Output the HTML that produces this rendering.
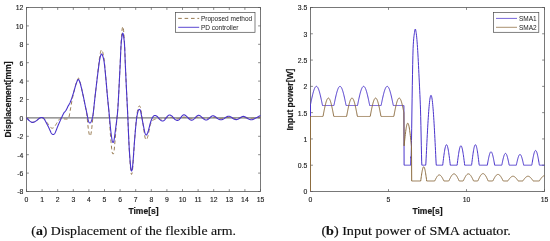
<!DOCTYPE html>
<html><head><meta charset="utf-8"><title>Figure</title>
<style>
html,body{margin:0;padding:0;background:#fff;}
body{width:550px;height:241px;overflow:hidden;position:relative;}
svg{position:absolute;left:0;top:0;display:block;}
.tk{font-family:"Liberation Sans",sans-serif;font-size:6.85px;fill:#1c1c1c;stroke:#1c1c1c;stroke-width:0.14px;}
.lb{font-family:"Liberation Sans",sans-serif;font-size:8.5px;font-weight:bold;fill:#1a1a1a;stroke:#1a1a1a;stroke-width:0.2px;}
.lg{font-family:"Liberation Sans",sans-serif;font-size:6.5px;fill:#1a1a1a;}
.cap{font-family:"Liberation Serif",serif;font-size:12.3px;fill:#111;stroke:#111;stroke-width:0.15px;}
.cap .b{font-weight:bold;}
</style></head><body>
<svg width="550" height="241" viewBox="0 0 550 241">
<rect x="0" y="0" width="550" height="241" fill="#ffffff"/>

<g id="left">
<rect x="26.5" y="7.5" width="234.0" height="184.0" fill="none" stroke="#585858" stroke-width="0.8"/>
<path d="M26.50,191.5 v-2.4 M26.50,7.5 v2.4 M42.10,191.5 v-2.4 M42.10,7.5 v2.4 M57.70,191.5 v-2.4 M57.70,7.5 v2.4 M73.30,191.5 v-2.4 M73.30,7.5 v2.4 M88.90,191.5 v-2.4 M88.90,7.5 v2.4 M104.50,191.5 v-2.4 M104.50,7.5 v2.4 M120.10,191.5 v-2.4 M120.10,7.5 v2.4 M135.70,191.5 v-2.4 M135.70,7.5 v2.4 M151.30,191.5 v-2.4 M151.30,7.5 v2.4 M166.90,191.5 v-2.4 M166.90,7.5 v2.4 M182.50,191.5 v-2.4 M182.50,7.5 v2.4 M198.10,191.5 v-2.4 M198.10,7.5 v2.4 M213.70,191.5 v-2.4 M213.70,7.5 v2.4 M229.30,191.5 v-2.4 M229.30,7.5 v2.4 M244.90,191.5 v-2.4 M244.90,7.5 v2.4 M260.50,191.5 v-2.4 M260.50,7.5 v2.4 M26.5,7.50 h2.4 M260.5,7.50 h-2.4 M26.5,25.90 h2.4 M260.5,25.90 h-2.4 M26.5,44.30 h2.4 M260.5,44.30 h-2.4 M26.5,62.70 h2.4 M260.5,62.70 h-2.4 M26.5,81.10 h2.4 M260.5,81.10 h-2.4 M26.5,99.50 h2.4 M260.5,99.50 h-2.4 M26.5,117.90 h2.4 M260.5,117.90 h-2.4 M26.5,136.30 h2.4 M260.5,136.30 h-2.4 M26.5,154.70 h2.4 M260.5,154.70 h-2.4 M26.5,173.10 h2.4 M260.5,173.10 h-2.4 M26.5,191.50 h2.4 M260.5,191.50 h-2.4 " stroke="#585858" stroke-width="0.7" fill="none"/>
<text class="tk" x="26.50" y="202.1" text-anchor="middle">0</text>
<text class="tk" x="42.10" y="202.1" text-anchor="middle">1</text>
<text class="tk" x="57.70" y="202.1" text-anchor="middle">2</text>
<text class="tk" x="73.30" y="202.1" text-anchor="middle">3</text>
<text class="tk" x="88.90" y="202.1" text-anchor="middle">4</text>
<text class="tk" x="104.50" y="202.1" text-anchor="middle">5</text>
<text class="tk" x="120.10" y="202.1" text-anchor="middle">6</text>
<text class="tk" x="135.70" y="202.1" text-anchor="middle">7</text>
<text class="tk" x="151.30" y="202.1" text-anchor="middle">8</text>
<text class="tk" x="166.90" y="202.1" text-anchor="middle">9</text>
<text class="tk" x="182.50" y="202.1" text-anchor="middle">10</text>
<text class="tk" x="198.10" y="202.1" text-anchor="middle">11</text>
<text class="tk" x="213.70" y="202.1" text-anchor="middle">12</text>
<text class="tk" x="229.30" y="202.1" text-anchor="middle">13</text>
<text class="tk" x="244.90" y="202.1" text-anchor="middle">14</text>
<text class="tk" x="260.50" y="202.1" text-anchor="middle">15</text>
<text class="tk" x="23.30" y="10.40" text-anchor="end">12</text>
<text class="tk" x="23.30" y="28.80" text-anchor="end">10</text>
<text class="tk" x="23.30" y="47.20" text-anchor="end">8</text>
<text class="tk" x="23.30" y="65.60" text-anchor="end">6</text>
<text class="tk" x="23.30" y="84.00" text-anchor="end">4</text>
<text class="tk" x="23.30" y="102.40" text-anchor="end">2</text>
<text class="tk" x="23.30" y="120.80" text-anchor="end">0</text>
<text class="tk" x="23.30" y="139.20" text-anchor="end">-2</text>
<text class="tk" x="23.30" y="157.60" text-anchor="end">-4</text>
<text class="tk" x="23.30" y="176.00" text-anchor="end">-6</text>
<text class="tk" x="23.30" y="194.40" text-anchor="end">-8</text>
<line x1="26.5" y1="117.90" x2="260.5" y2="117.90" stroke="#7a7a7a" stroke-width="1.1"/>
<path d="M26.50,117.80 L26.76,118.11 L27.02,118.41 L27.28,118.70 L27.54,118.98 L27.80,119.25 L28.06,119.50 L28.32,119.75 L28.58,119.99 L28.84,120.23 L29.10,120.46 L29.36,120.68 L29.62,120.90 L29.88,121.12 L30.14,121.33 L30.40,121.53 L30.66,121.71 L30.92,121.88 L31.19,122.03 L31.45,122.16 L31.71,122.27 L31.97,122.34 L32.23,122.39 L32.49,122.40 L32.75,122.38 L33.01,122.35 L33.27,122.29 L33.53,122.22 L33.79,122.13 L34.05,122.03 L34.31,121.92 L34.57,121.79 L34.83,121.65 L35.09,121.50 L35.35,121.35 L35.61,121.19 L35.87,121.02 L36.13,120.85 L36.39,120.67 L36.65,120.49 L36.91,120.30 L37.17,120.09 L37.43,119.88 L37.69,119.66 L37.95,119.43 L38.21,119.20 L38.47,118.98 L38.73,118.77 L38.99,118.56 L39.25,118.37 L39.51,118.19 L39.77,118.03 L40.04,117.90 L40.30,117.79 L40.56,117.70 L40.82,117.64 L41.08,117.59 L41.34,117.57 L41.60,117.58 L41.86,117.61 L42.12,117.66 L42.38,117.73 L42.64,117.82 L42.90,117.93 L43.16,118.08 L43.42,118.25 L43.68,118.45 L43.94,118.68 L44.20,118.95 L44.46,119.25 L44.72,119.58 L44.98,119.91 L45.24,120.24 L45.50,120.58 L45.76,120.91 L46.02,121.25 L46.28,121.59 L46.54,121.93 L46.80,122.28 L47.06,122.62 L47.32,122.97 L47.58,123.31 L47.84,123.66 L48.10,124.01 L48.36,124.37 L48.62,124.72 L48.88,125.08 L49.15,125.44 L49.41,125.79 L49.67,126.15 L49.93,126.50 L50.19,126.85 L50.45,127.18 L50.71,127.47 L50.97,127.70 L51.23,127.88 L51.49,128.01 L51.75,128.11 L52.01,128.17 L52.27,128.20 L52.53,128.20 L52.79,128.15 L53.05,128.07 L53.31,127.94 L53.57,127.77 L53.83,127.56 L54.09,127.30 L54.35,126.99 L54.61,126.65 L54.87,126.27 L55.13,125.87 L55.39,125.45 L55.65,125.01 L55.91,124.57 L56.17,124.13 L56.43,123.69 L56.69,123.25 L56.95,122.83 L57.21,122.42 L57.47,122.04 L57.73,121.66 L57.99,121.27 L58.26,120.87 L58.52,120.47 L58.78,120.08 L59.04,119.71 L59.30,119.37 L59.56,119.06 L59.82,118.79 L60.08,118.57 L60.34,118.41 L60.60,118.32 L60.86,118.29 L61.12,118.30 L61.38,118.34 L61.64,118.39 L61.90,118.47 L62.16,118.55 L62.42,118.63 L62.68,118.72 L62.94,118.79 L63.20,118.85 L63.46,118.90 L63.72,118.92 L63.98,118.94 L64.24,118.97 L64.50,118.99 L64.76,119.01 L65.02,119.03 L65.28,119.05 L65.54,119.07 L65.80,119.09 L66.06,119.10 L66.32,119.12 L66.58,119.12 L66.84,119.11 L67.11,119.08 L67.37,119.05 L67.63,118.99 L67.89,118.92 L68.15,118.82 L68.41,118.60 L68.67,118.04 L68.93,117.19 L69.19,116.10 L69.45,114.82 L69.71,113.40 L69.97,111.92 L70.23,110.41 L70.49,108.90 L70.75,107.41 L71.01,105.95 L71.27,104.48 L71.53,103.00 L71.79,101.53 L72.05,100.12 L72.31,98.82 L72.57,97.63 L72.83,96.51 L73.09,95.43 L73.35,94.37 L73.61,93.29 L73.87,92.19 L74.13,91.05 L74.39,89.91 L74.65,88.77 L74.91,87.66 L75.17,86.61 L75.43,85.66 L75.69,84.80 L75.95,83.97 L76.22,83.15 L76.48,82.34 L76.74,81.58 L77.00,80.84 L77.26,80.12 L77.52,79.45 L77.78,78.91 L78.04,78.51 L78.30,78.26 L78.56,78.18 L78.82,78.37 L79.08,78.81 L79.34,79.48 L79.60,80.35 L79.86,81.27 L80.12,82.23 L80.38,83.25 L80.64,84.34 L80.90,85.49 L81.16,86.65 L81.42,87.80 L81.68,88.97 L81.94,90.14 L82.20,91.31 L82.46,92.48 L82.72,93.65 L82.98,94.82 L83.24,95.99 L83.50,97.17 L83.76,98.34 L84.02,99.60 L84.28,101.05 L84.54,102.56 L84.80,104.03 L85.07,105.39 L85.33,106.69 L85.59,107.95 L85.85,109.20 L86.11,110.47 L86.37,111.77 L86.63,113.15 L86.89,114.99 L87.15,117.39 L87.41,120.11 L87.67,122.93 L87.93,125.60 L88.19,127.91 L88.45,129.84 L88.71,131.56 L88.97,133.04 L89.23,134.25 L89.49,135.17 L89.75,135.76 L90.01,136.00 L90.27,135.90 L90.53,135.46 L90.79,134.66 L91.05,133.51 L91.31,131.97 L91.57,130.03 L91.83,127.69 L92.09,125.12 L92.35,122.48 L92.61,119.82 L92.87,117.17 L93.13,114.57 L93.39,112.05 L93.65,109.58 L93.91,107.09 L94.18,104.60 L94.44,102.14 L94.70,99.72 L94.96,97.39 L95.22,95.11 L95.48,92.83 L95.74,90.55 L96.00,88.27 L96.26,86.00 L96.52,83.72 L96.78,81.44 L97.04,79.16 L97.30,76.89 L97.56,74.61 L97.82,72.33 L98.08,70.05 L98.34,67.78 L98.60,65.50 L98.86,63.22 L99.12,60.97 L99.38,58.96 L99.64,57.16 L99.90,55.55 L100.16,54.07 L100.42,52.69 L100.68,51.53 L100.94,50.71 L101.20,50.18 L101.46,49.93 L101.72,49.93 L101.98,50.17 L102.24,50.66 L102.50,51.36 L102.76,52.26 L103.03,53.32 L103.29,54.44 L103.55,55.70 L103.81,57.20 L104.07,59.02 L104.33,61.27 L104.59,63.92 L104.85,66.66 L105.11,69.46 L105.37,72.33 L105.63,75.25 L105.89,78.21 L106.15,81.22 L106.41,84.25 L106.67,87.30 L106.93,90.36 L107.19,93.40 L107.45,96.42 L107.71,99.35 L107.97,102.11 L108.23,104.78 L108.49,107.45 L108.75,110.21 L109.01,113.14 L109.27,116.54 L109.53,120.45 L109.79,124.63 L110.05,128.82 L110.31,132.78 L110.57,136.34 L110.83,139.66 L111.09,142.75 L111.35,145.61 L111.61,148.20 L111.87,150.45 L112.14,152.07 L112.40,153.14 L112.66,153.75 L112.92,153.99 L113.18,153.99 L113.44,153.81 L113.70,153.22 L113.96,152.00 L114.22,149.89 L114.48,146.95 L114.74,143.96 L115.00,140.95 L115.26,137.95 L115.52,134.94 L115.78,131.93 L116.04,128.92 L116.30,125.91 L116.56,122.90 L116.82,119.88 L117.08,116.87 L117.34,113.85 L117.60,110.79 L117.86,107.35 L118.12,103.49 L118.38,99.25 L118.64,94.69 L118.90,89.87 L119.16,84.81 L119.42,79.53 L119.68,74.10 L119.94,68.54 L120.20,62.91 L120.46,57.00 L120.72,50.93 L120.98,45.22 L121.25,40.52 L121.51,36.62 L121.77,33.16 L122.03,30.32 L122.29,28.26 L122.55,27.01 L122.81,26.60 L123.07,27.10 L123.33,28.48 L123.59,30.61 L123.85,33.38 L124.11,36.62 L124.37,40.45 L124.63,45.39 L124.89,51.91 L125.15,59.17 L125.41,65.59 L125.67,71.67 L125.93,77.65 L126.19,83.47 L126.45,89.08 L126.71,94.38 L126.97,99.48 L127.23,104.55 L127.49,109.76 L127.75,115.32 L128.01,121.36 L128.27,127.64 L128.53,133.90 L128.79,139.86 L129.05,145.31 L129.31,150.27 L129.57,154.82 L129.83,159.03 L130.10,162.97 L130.36,166.63 L130.62,169.64 L130.88,171.95 L131.14,173.52 L131.40,174.32 L131.66,174.34 L131.92,173.71 L132.18,172.49 L132.44,170.65 L132.70,168.19 L132.96,165.06 L133.22,161.36 L133.48,157.33 L133.74,153.13 L134.00,148.92 L134.26,144.85 L134.52,141.08 L134.78,137.64 L135.04,134.30 L135.30,131.05 L135.56,127.94 L135.82,124.98 L136.08,122.20 L136.34,119.62 L136.60,117.28 L136.86,115.16 L137.12,113.26 L137.38,111.58 L137.64,110.13 L137.90,108.90 L138.16,107.89 L138.42,107.13 L138.68,106.58 L138.94,106.24 L139.21,106.09 L139.47,106.12 L139.73,106.17 L139.99,106.33 L140.25,106.72 L140.51,107.50 L140.77,108.79 L141.03,110.49 L141.29,112.22 L141.55,113.97 L141.81,115.74 L142.07,117.53 L142.33,119.32 L142.59,121.11 L142.85,122.93 L143.11,124.76 L143.37,126.60 L143.63,128.44 L143.89,130.27 L144.15,132.09 L144.41,133.89 L144.67,135.59 L144.93,136.98 L145.19,138.05 L145.45,138.83 L145.71,139.35 L145.97,139.62 L146.23,139.67 L146.49,139.53 L146.75,139.22 L147.01,138.76 L147.27,138.16 L147.53,137.42 L147.79,136.56 L148.06,135.59 L148.32,134.50 L148.58,133.22 L148.84,131.82 L149.10,130.37 L149.36,128.94 L149.62,127.61 L149.88,126.46 L150.14,125.52 L150.40,124.65 L150.66,123.83 L150.92,123.06 L151.18,122.37 L151.44,121.76 L151.70,121.24 L151.96,120.83 L152.22,120.53 L152.48,120.36 L152.74,120.22 L153.00,120.08 L153.26,119.96 L153.52,119.84 L153.78,119.72 L154.04,119.62 L154.30,119.52 L154.56,119.43 L154.82,119.35 L155.08,119.28 L155.34,119.21 L155.60,119.13 L155.86,119.06 L156.12,118.99 L156.38,118.91 L156.64,118.85 L156.90,118.79 L157.17,118.73 L157.43,118.68 L157.69,118.64 L157.95,118.61 L158.21,118.59 L158.47,118.61 L158.73,118.66 L158.99,118.73 L159.25,118.82 L159.51,118.91 L159.77,119.00 L160.03,119.08 L160.29,119.15 L160.55,119.19 L160.81,119.21 L161.07,119.19 L161.33,119.16 L161.59,119.13 L161.85,119.09 L162.11,119.04 L162.37,118.99 L162.63,118.94 L162.89,118.89 L163.15,118.82 L163.41,118.76 L163.67,118.69 L163.93,118.62 L164.19,118.54 L164.45,118.46 L164.71,118.37 L164.97,118.28 L165.23,118.19 L165.49,118.10 L165.75,118.01 L166.02,117.91 L166.28,117.83 L166.54,117.74 L166.80,117.66 L167.06,117.58 L167.32,117.51 L167.58,117.44 L167.84,117.37 L168.10,117.31 L168.36,117.25 L168.62,117.21 L168.88,117.17 L169.14,117.15 L169.40,117.15 L169.66,117.16 L169.92,117.19 L170.18,117.23 L170.44,117.28 L170.70,117.34 L170.96,117.40 L171.22,117.46 L171.48,117.52 L171.74,117.58 L172.00,117.65 L172.26,117.71 L172.52,117.78 L172.78,117.85 L173.04,117.91 L173.30,117.98 L173.56,118.05 L173.82,118.12 L174.08,118.19 L174.34,118.26 L174.60,118.34 L174.86,118.41 L175.13,118.48 L175.39,118.55 L175.65,118.62 L175.91,118.68 L176.17,118.73 L176.43,118.77 L176.69,118.80 L176.95,118.80 L177.21,118.80 L177.47,118.78 L177.73,118.75 L177.99,118.71 L178.25,118.67 L178.51,118.61 L178.77,118.55 L179.03,118.49 L179.29,118.42 L179.55,118.34 L179.81,118.26 L180.07,118.17 L180.33,118.07 L180.59,117.97 L180.85,117.88 L181.11,117.78 L181.37,117.69 L181.63,117.61 L181.89,117.53 L182.15,117.46 L182.41,117.39 L182.67,117.31 L182.93,117.24 L183.19,117.18 L183.45,117.12 L183.71,117.09 L183.97,117.07 L184.24,117.07 L184.50,117.10 L184.76,117.15 L185.02,117.20 L185.28,117.25 L185.54,117.31 L185.80,117.37 L186.06,117.43 L186.32,117.50 L186.58,117.56 L186.84,117.63 L187.10,117.70 L187.36,117.76 L187.62,117.83 L187.88,117.90 L188.14,117.97 L188.40,118.04 L188.66,118.11 L188.92,118.19 L189.18,118.26 L189.44,118.33 L189.70,118.40 L189.96,118.47 L190.22,118.54 L190.48,118.60 L190.74,118.65 L191.00,118.68 L191.26,118.69 L191.52,118.70 L191.78,118.68 L192.04,118.66 L192.30,118.63 L192.56,118.59 L192.82,118.54 L193.09,118.49 L193.35,118.43 L193.61,118.38 L193.87,118.31 L194.13,118.24 L194.39,118.16 L194.65,118.07 L194.91,117.98 L195.17,117.90 L195.43,117.81 L195.69,117.72 L195.95,117.64 L196.21,117.57 L196.47,117.51 L196.73,117.45 L196.99,117.39 L197.25,117.33 L197.51,117.28 L197.77,117.23 L198.03,117.19 L198.29,117.17 L198.55,117.17 L198.81,117.18 L199.07,117.21 L199.33,117.25 L199.59,117.30 L199.85,117.35 L200.11,117.40 L200.37,117.45 L200.63,117.50 L200.89,117.56 L201.15,117.61 L201.41,117.67 L201.67,117.73 L201.93,117.79 L202.20,117.84 L202.46,117.90 L202.72,117.97 L202.98,118.03 L203.24,118.10 L203.50,118.16 L203.76,118.23 L204.02,118.29 L204.28,118.35 L204.54,118.41 L204.80,118.46 L205.06,118.51 L205.32,118.55 L205.58,118.57 L205.84,118.57 L206.10,118.57 L206.36,118.55 L206.62,118.53 L206.88,118.49 L207.14,118.45 L207.40,118.41 L207.66,118.36 L207.92,118.31 L208.18,118.26 L208.44,118.21 L208.70,118.15 L208.96,118.09 L209.22,118.02 L209.48,117.96 L209.74,117.89 L210.00,117.82 L210.26,117.76 L210.52,117.70 L210.78,117.64 L211.05,117.59 L211.31,117.54 L211.57,117.49 L211.83,117.44 L212.09,117.40 L212.35,117.36 L212.61,117.33 L212.87,117.30 L213.13,117.29 L213.39,117.29 L213.65,117.31 L213.91,117.33 L214.17,117.36 L214.43,117.40 L214.69,117.44 L214.95,117.49 L215.21,117.54 L215.47,117.59 L215.73,117.64 L215.99,117.70 L216.25,117.75 L216.51,117.80 L216.77,117.86 L217.03,117.92 L217.29,117.99 L217.55,118.05 L217.81,118.12 L218.07,118.19 L218.33,118.26 L218.59,118.33 L218.85,118.39 L219.11,118.44 L219.37,118.48 L219.63,118.52 L219.89,118.54 L220.16,118.55 L220.42,118.55 L220.68,118.54 L220.94,118.52 L221.20,118.49 L221.46,118.46 L221.72,118.43 L221.98,118.39 L222.24,118.34 L222.50,118.30 L222.76,118.25 L223.02,118.21 L223.28,118.15 L223.54,118.10 L223.80,118.04 L224.06,117.99 L224.32,117.93 L224.58,117.87 L224.84,117.82 L225.10,117.77 L225.36,117.72 L225.62,117.68 L225.88,117.64 L226.14,117.60 L226.40,117.56 L226.66,117.52 L226.92,117.48 L227.18,117.45 L227.44,117.43 L227.70,117.41 L227.96,117.40 L228.22,117.39 L228.48,117.40 L228.74,117.41 L229.01,117.43 L229.27,117.46 L229.53,117.49 L229.79,117.52 L230.05,117.56 L230.31,117.60 L230.57,117.64 L230.83,117.69 L231.09,117.73 L231.35,117.77 L231.61,117.82 L231.87,117.87 L232.13,117.92 L232.39,117.98 L232.65,118.03 L232.91,118.09 L233.17,118.15 L233.43,118.21 L233.69,118.26 L233.95,118.31 L234.21,118.36 L234.47,118.40 L234.73,118.43 L234.99,118.45 L235.25,118.46 L235.51,118.46 L235.77,118.46 L236.03,118.45 L236.29,118.43 L236.55,118.41 L236.81,118.39 L237.07,118.36 L237.33,118.32 L237.59,118.29 L237.85,118.24 L238.12,118.19 L238.38,118.14 L238.64,118.08 L238.90,118.02 L239.16,117.96 L239.42,117.91 L239.68,117.85 L239.94,117.80 L240.20,117.75 L240.46,117.71 L240.72,117.67 L240.98,117.63 L241.24,117.60 L241.50,117.57 L241.76,117.54 L242.02,117.51 L242.28,117.49 L242.54,117.48 L242.80,117.47 L243.06,117.47 L243.32,117.49 L243.58,117.51 L243.84,117.53 L244.10,117.56 L244.36,117.59 L244.62,117.63 L244.88,117.66 L245.14,117.70 L245.40,117.74 L245.66,117.77 L245.92,117.81 L246.18,117.85 L246.44,117.89 L246.70,117.93 L246.96,117.97 L247.23,118.02 L247.49,118.07 L247.75,118.11 L248.01,118.16 L248.27,118.21 L248.53,118.25 L248.79,118.30 L249.05,118.34 L249.31,118.37 L249.57,118.41 L249.83,118.43 L250.09,118.45 L250.35,118.46 L250.61,118.46 L250.87,118.46 L251.13,118.44 L251.39,118.43 L251.65,118.40 L251.91,118.38 L252.17,118.34 L252.43,118.31 L252.69,118.27 L252.95,118.23 L253.21,118.19 L253.47,118.14 L253.73,118.10 L253.99,118.05 L254.25,118.00 L254.51,117.95 L254.77,117.91 L255.03,117.87 L255.29,117.83 L255.55,117.79 L255.81,117.76 L256.08,117.72 L256.34,117.69 L256.60,117.66 L256.86,117.62 L257.12,117.59 L257.38,117.56 L257.64,117.52 L257.90,117.49 L258.16,117.46 L258.42,117.43 L258.68,117.40 L258.94,117.37 L259.20,117.34 L259.46,117.31 L259.72,117.28 L259.98,117.25 L260.24,117.23 L260.50,117.20" fill="none" stroke="#8c6c40" stroke-width="0.9" stroke-dasharray="3.7 2.6"/>
<path d="M26.50,117.80 L26.76,118.11 L27.02,118.41 L27.28,118.70 L27.54,118.98 L27.80,119.25 L28.06,119.50 L28.32,119.75 L28.58,119.99 L28.84,120.23 L29.10,120.46 L29.36,120.68 L29.62,120.90 L29.88,121.12 L30.14,121.33 L30.40,121.53 L30.66,121.71 L30.92,121.88 L31.19,122.03 L31.45,122.16 L31.71,122.27 L31.97,122.34 L32.23,122.39 L32.49,122.40 L32.75,122.38 L33.01,122.35 L33.27,122.29 L33.53,122.22 L33.79,122.14 L34.05,122.03 L34.31,121.92 L34.57,121.79 L34.83,121.65 L35.09,121.51 L35.35,121.35 L35.61,121.19 L35.87,121.02 L36.13,120.85 L36.39,120.67 L36.65,120.49 L36.91,120.30 L37.17,120.10 L37.43,119.88 L37.69,119.66 L37.95,119.44 L38.21,119.21 L38.47,118.99 L38.73,118.78 L38.99,118.57 L39.25,118.37 L39.51,118.19 L39.77,118.03 L40.04,117.89 L40.30,117.77 L40.56,117.68 L40.82,117.61 L41.08,117.55 L41.34,117.52 L41.60,117.50 L41.86,117.50 L42.12,117.53 L42.38,117.59 L42.64,117.68 L42.90,117.81 L43.16,117.97 L43.42,118.18 L43.68,118.42 L43.94,118.71 L44.20,119.05 L44.46,119.44 L44.72,119.86 L44.98,120.29 L45.24,120.74 L45.50,121.20 L45.76,121.67 L46.02,122.15 L46.28,122.64 L46.54,123.13 L46.80,123.63 L47.06,124.14 L47.32,124.65 L47.58,125.17 L47.84,125.69 L48.10,126.21 L48.36,126.75 L48.62,127.31 L48.88,127.88 L49.15,128.46 L49.41,129.04 L49.67,129.62 L49.93,130.21 L50.19,130.78 L50.45,131.35 L50.71,131.90 L50.97,132.43 L51.23,132.93 L51.49,133.34 L51.75,133.69 L52.01,133.97 L52.27,134.19 L52.53,134.35 L52.79,134.45 L53.05,134.50 L53.31,134.49 L53.57,134.44 L53.83,134.32 L54.09,134.15 L54.35,133.91 L54.61,133.61 L54.87,133.23 L55.13,132.78 L55.39,132.24 L55.65,131.64 L55.91,131.01 L56.17,130.36 L56.43,129.69 L56.69,129.02 L56.95,128.35 L57.21,127.67 L57.47,127.00 L57.73,126.34 L57.99,125.69 L58.26,125.07 L58.52,124.46 L58.78,123.87 L59.04,123.28 L59.30,122.70 L59.56,122.11 L59.82,121.52 L60.08,120.94 L60.34,120.36 L60.60,119.78 L60.86,119.21 L61.12,118.63 L61.38,118.06 L61.64,117.50 L61.90,116.94 L62.16,116.40 L62.42,115.86 L62.68,115.33 L62.94,114.81 L63.20,114.30 L63.46,113.80 L63.72,113.31 L63.98,112.83 L64.24,112.41 L64.50,112.07 L64.76,111.79 L65.02,111.53 L65.28,111.28 L65.54,110.98 L65.80,110.63 L66.06,110.18 L66.32,109.69 L66.58,109.19 L66.84,108.67 L67.11,108.15 L67.37,107.63 L67.63,107.11 L67.89,106.60 L68.15,106.10 L68.41,105.62 L68.67,105.16 L68.93,104.70 L69.19,104.24 L69.45,103.77 L69.71,103.28 L69.97,102.76 L70.23,102.20 L70.49,101.59 L70.75,100.95 L71.01,100.27 L71.27,99.57 L71.53,98.85 L71.79,98.11 L72.05,97.35 L72.31,96.57 L72.57,95.78 L72.83,94.98 L73.09,94.17 L73.35,93.34 L73.61,92.49 L73.87,91.61 L74.13,90.69 L74.39,89.76 L74.65,88.82 L74.91,87.90 L75.17,87.01 L75.43,86.14 L75.69,85.30 L75.95,84.46 L76.22,83.64 L76.48,82.88 L76.74,82.17 L77.00,81.51 L77.26,80.86 L77.52,80.33 L77.78,79.95 L78.04,79.70 L78.30,79.60 L78.56,79.66 L78.82,79.89 L79.08,80.29 L79.34,80.85 L79.60,81.52 L79.86,82.23 L80.12,82.99 L80.38,83.83 L80.64,84.77 L80.90,85.78 L81.16,86.81 L81.42,87.87 L81.68,88.97 L81.94,90.14 L82.20,91.31 L82.46,92.48 L82.72,93.65 L82.98,94.82 L83.24,95.99 L83.50,97.17 L83.76,98.34 L84.02,99.56 L84.28,100.88 L84.54,102.22 L84.80,103.52 L85.07,104.77 L85.33,106.00 L85.59,107.23 L85.85,108.45 L86.11,109.67 L86.37,110.90 L86.63,112.13 L86.89,113.40 L87.15,114.71 L87.41,116.04 L87.67,117.37 L87.93,118.67 L88.19,119.91 L88.45,120.92 L88.71,121.69 L88.97,122.25 L89.23,122.63 L89.49,122.86 L89.75,122.97 L90.01,123.00 L90.27,122.92 L90.53,122.68 L90.79,122.32 L91.05,121.82 L91.31,121.22 L91.57,120.51 L91.83,119.72 L92.09,118.86 L92.35,117.94 L92.61,116.88 L92.87,115.60 L93.13,114.01 L93.39,112.05 L93.65,109.76 L93.91,107.31 L94.18,104.78 L94.44,102.23 L94.70,99.74 L94.96,97.38 L95.22,95.14 L95.48,92.91 L95.74,90.69 L96.00,88.47 L96.26,86.26 L96.52,84.06 L96.78,81.86 L97.04,79.68 L97.30,77.52 L97.56,75.38 L97.82,73.27 L98.08,71.18 L98.34,69.12 L98.60,67.09 L98.86,65.07 L99.12,63.11 L99.38,61.40 L99.64,59.93 L99.90,58.64 L100.16,57.49 L100.42,56.41 L100.68,55.48 L100.94,54.77 L101.20,54.29 L101.46,54.04 L101.72,54.03 L101.98,54.26 L102.24,54.70 L102.50,55.31 L102.76,56.07 L103.03,56.91 L103.29,57.81 L103.55,58.82 L103.81,60.03 L104.07,61.53 L104.33,63.39 L104.59,65.63 L104.85,68.02 L105.11,70.56 L105.37,73.20 L105.63,75.95 L105.89,78.77 L106.15,81.66 L106.41,84.64 L106.67,87.67 L106.93,90.69 L107.19,93.64 L107.45,96.47 L107.71,99.17 L107.97,101.78 L108.23,104.35 L108.49,106.91 L108.75,109.49 L109.01,112.12 L109.27,114.83 L109.53,117.62 L109.79,120.44 L110.05,123.26 L110.31,126.04 L110.57,128.75 L110.83,131.20 L111.09,133.40 L111.35,135.40 L111.61,137.25 L111.87,138.98 L112.14,140.40 L112.40,141.43 L112.66,142.09 L112.92,142.38 L113.18,142.35 L113.44,142.05 L113.70,141.44 L113.96,140.46 L114.22,139.05 L114.48,137.25 L114.74,135.36 L115.00,133.42 L115.26,131.43 L115.52,129.41 L115.78,127.38 L116.04,125.39 L116.30,123.40 L116.56,121.37 L116.82,119.26 L117.08,117.02 L117.34,114.61 L117.60,111.99 L117.86,108.74 L118.12,104.67 L118.38,100.01 L118.64,95.01 L118.90,89.89 L119.16,84.84 L119.42,79.72 L119.68,74.52 L119.94,69.25 L120.20,63.92 L120.46,57.99 L120.72,51.77 L120.98,46.43 L121.25,42.71 L121.51,40.11 L121.77,37.97 L122.03,36.07 L122.29,34.55 L122.55,33.55 L122.81,33.20 L123.07,33.61 L123.33,34.69 L123.59,36.24 L123.85,38.11 L124.11,40.14 L124.37,42.73 L124.63,46.62 L124.89,52.69 L125.15,60.18 L125.41,66.46 L125.67,72.25 L125.93,77.98 L126.19,83.60 L126.45,89.05 L126.71,94.31 L126.97,99.46 L127.23,104.58 L127.49,109.79 L127.75,115.28 L128.01,121.34 L128.27,127.69 L128.53,133.98 L128.79,139.86 L129.05,145.07 L129.31,149.65 L129.57,153.70 L129.83,157.35 L130.10,160.70 L130.36,163.83 L130.62,166.49 L130.88,168.61 L131.14,170.11 L131.40,170.91 L131.66,170.94 L131.92,170.38 L132.18,169.28 L132.44,167.61 L132.70,165.37 L132.96,162.52 L133.22,159.15 L133.48,155.55 L133.74,151.83 L134.00,148.09 L134.26,144.44 L134.52,141.00 L134.78,137.78 L135.04,134.62 L135.30,131.54 L135.56,128.57 L135.82,125.75 L136.08,123.12 L136.34,120.73 L136.60,118.63 L136.86,116.81 L137.12,115.25 L137.38,113.91 L137.64,112.77 L137.90,111.81 L138.16,111.01 L138.42,110.35 L138.68,109.86 L138.94,109.53 L139.21,109.38 L139.47,109.42 L139.73,109.54 L139.99,109.74 L140.25,110.14 L140.51,110.80 L140.77,111.84 L141.03,113.16 L141.29,114.53 L141.55,115.92 L141.81,117.33 L142.07,118.73 L142.33,120.11 L142.59,121.46 L142.85,122.79 L143.11,124.11 L143.37,125.43 L143.63,126.73 L143.89,128.03 L144.15,129.31 L144.41,130.57 L144.67,131.78 L144.93,132.80 L145.19,133.63 L145.45,134.27 L145.71,134.72 L145.97,134.97 L146.23,135.05 L146.49,134.94 L146.75,134.70 L147.01,134.33 L147.27,133.85 L147.53,133.26 L147.79,132.58 L148.06,131.80 L148.32,130.95 L148.58,130.01 L148.84,129.00 L149.10,127.93 L149.36,126.85 L149.62,125.77 L149.88,124.73 L150.14,123.73 L150.40,122.83 L150.66,122.01 L150.92,121.24 L151.18,120.50 L151.44,119.80 L151.70,119.14 L151.96,118.54 L152.22,118.00 L152.48,117.51 L152.74,117.09 L153.00,116.73 L153.26,116.41 L153.52,116.13 L153.78,115.91 L154.04,115.73 L154.30,115.60 L154.56,115.52 L154.82,115.49 L155.08,115.51 L155.34,115.56 L155.60,115.62 L155.86,115.70 L156.12,115.80 L156.38,115.93 L156.64,116.08 L156.90,116.26 L157.17,116.47 L157.43,116.71 L157.69,116.98 L157.95,117.27 L158.21,117.57 L158.47,117.88 L158.73,118.20 L158.99,118.51 L159.25,118.81 L159.51,119.11 L159.77,119.38 L160.03,119.63 L160.29,119.86 L160.55,120.07 L160.81,120.27 L161.07,120.45 L161.33,120.61 L161.59,120.75 L161.85,120.86 L162.11,120.94 L162.37,120.99 L162.63,121.00 L162.89,120.97 L163.15,120.90 L163.41,120.79 L163.67,120.65 L163.93,120.47 L164.19,120.27 L164.45,120.04 L164.71,119.79 L164.97,119.53 L165.23,119.24 L165.49,118.91 L165.75,118.55 L166.02,118.17 L166.28,117.78 L166.54,117.40 L166.80,117.04 L167.06,116.70 L167.32,116.39 L167.58,116.12 L167.84,115.87 L168.10,115.65 L168.36,115.45 L168.62,115.29 L168.88,115.15 L169.14,115.06 L169.40,115.01 L169.66,115.00 L169.92,115.03 L170.18,115.09 L170.44,115.18 L170.70,115.29 L170.96,115.43 L171.22,115.60 L171.48,115.78 L171.74,115.98 L172.00,116.20 L172.26,116.44 L172.52,116.71 L172.78,116.99 L173.04,117.29 L173.30,117.59 L173.56,117.90 L173.82,118.20 L174.08,118.49 L174.34,118.77 L174.60,119.02 L174.86,119.26 L175.13,119.47 L175.39,119.66 L175.65,119.83 L175.91,119.98 L176.17,120.11 L176.43,120.22 L176.69,120.31 L176.95,120.37 L177.21,120.40 L177.47,120.40 L177.73,120.37 L177.99,120.30 L178.25,120.20 L178.51,120.07 L178.77,119.91 L179.03,119.72 L179.29,119.50 L179.55,119.25 L179.81,118.97 L180.07,118.65 L180.33,118.30 L180.59,117.93 L180.85,117.55 L181.11,117.17 L181.37,116.82 L181.63,116.49 L181.89,116.20 L182.15,115.93 L182.41,115.66 L182.67,115.42 L182.93,115.21 L183.19,115.03 L183.45,114.90 L183.71,114.82 L183.97,114.80 L184.24,114.83 L184.50,114.89 L184.76,114.99 L185.02,115.13 L185.28,115.28 L185.54,115.47 L185.80,115.66 L186.06,115.88 L186.32,116.10 L186.58,116.34 L186.84,116.60 L187.10,116.87 L187.36,117.14 L187.62,117.42 L187.88,117.70 L188.14,117.98 L188.40,118.25 L188.66,118.51 L188.92,118.75 L189.18,118.98 L189.44,119.20 L189.70,119.40 L189.96,119.58 L190.22,119.74 L190.48,119.89 L190.74,120.01 L191.00,120.10 L191.26,120.16 L191.52,120.20 L191.78,120.19 L192.04,120.16 L192.30,120.08 L192.56,119.98 L192.82,119.85 L193.09,119.70 L193.35,119.52 L193.61,119.33 L193.87,119.11 L194.13,118.89 L194.39,118.64 L194.65,118.37 L194.91,118.08 L195.17,117.79 L195.43,117.50 L195.69,117.21 L195.95,116.93 L196.21,116.68 L196.47,116.44 L196.73,116.22 L196.99,116.01 L197.25,115.82 L197.51,115.65 L197.77,115.51 L198.03,115.40 L198.29,115.33 L198.55,115.30 L198.81,115.30 L199.07,115.35 L199.33,115.42 L199.59,115.53 L199.85,115.66 L200.11,115.81 L200.37,115.98 L200.63,116.17 L200.89,116.37 L201.15,116.59 L201.41,116.83 L201.67,117.08 L201.93,117.34 L202.20,117.60 L202.46,117.86 L202.72,118.11 L202.98,118.36 L203.24,118.59 L203.50,118.80 L203.76,118.99 L204.02,119.17 L204.28,119.34 L204.54,119.50 L204.80,119.64 L205.06,119.75 L205.32,119.85 L205.58,119.93 L205.84,119.98 L206.10,120.01 L206.36,120.00 L206.62,119.97 L206.88,119.90 L207.14,119.81 L207.40,119.70 L207.66,119.56 L207.92,119.41 L208.18,119.23 L208.44,119.04 L208.70,118.84 L208.96,118.60 L209.22,118.34 L209.48,118.08 L209.74,117.80 L210.00,117.53 L210.26,117.27 L210.52,117.03 L210.78,116.81 L211.05,116.61 L211.31,116.43 L211.57,116.26 L211.83,116.11 L212.09,115.99 L212.35,115.89 L212.61,115.82 L212.87,115.80 L213.13,115.80 L213.39,115.83 L213.65,115.88 L213.91,115.96 L214.17,116.06 L214.43,116.17 L214.69,116.30 L214.95,116.45 L215.21,116.61 L215.47,116.78 L215.73,116.97 L215.99,117.17 L216.25,117.38 L216.51,117.60 L216.77,117.82 L217.03,118.04 L217.29,118.25 L217.55,118.45 L217.81,118.65 L218.07,118.82 L218.33,118.98 L218.59,119.12 L218.85,119.26 L219.11,119.38 L219.37,119.49 L219.63,119.58 L219.89,119.66 L220.16,119.72 L220.42,119.77 L220.68,119.79 L220.94,119.80 L221.20,119.79 L221.46,119.76 L221.72,119.71 L221.98,119.65 L222.24,119.57 L222.50,119.48 L222.76,119.37 L223.02,119.25 L223.28,119.12 L223.54,118.98 L223.80,118.82 L224.06,118.64 L224.32,118.45 L224.58,118.25 L224.84,118.05 L225.10,117.85 L225.36,117.65 L225.62,117.45 L225.88,117.27 L226.14,117.10 L226.40,116.94 L226.66,116.80 L226.92,116.67 L227.18,116.54 L227.44,116.44 L227.70,116.35 L227.96,116.28 L228.22,116.23 L228.48,116.20 L228.74,116.20 L229.01,116.22 L229.27,116.27 L229.53,116.34 L229.79,116.42 L230.05,116.53 L230.31,116.64 L230.57,116.77 L230.83,116.92 L231.09,117.07 L231.35,117.25 L231.61,117.44 L231.87,117.63 L232.13,117.84 L232.39,118.04 L232.65,118.24 L232.91,118.43 L233.17,118.60 L233.43,118.76 L233.69,118.90 L233.95,119.03 L234.21,119.15 L234.47,119.26 L234.73,119.35 L234.99,119.43 L235.25,119.50 L235.51,119.55 L235.77,119.58 L236.03,119.60 L236.29,119.60 L236.55,119.59 L236.81,119.55 L237.07,119.50 L237.33,119.44 L237.59,119.35 L237.85,119.26 L238.12,119.15 L238.38,119.02 L238.64,118.88 L238.90,118.72 L239.16,118.54 L239.42,118.35 L239.68,118.15 L239.94,117.95 L240.20,117.75 L240.46,117.56 L240.72,117.38 L240.98,117.21 L241.24,117.06 L241.50,116.92 L241.76,116.79 L242.02,116.67 L242.28,116.57 L242.54,116.49 L242.80,116.43 L243.06,116.39 L243.32,116.38 L243.58,116.39 L243.84,116.43 L244.10,116.48 L244.36,116.56 L244.62,116.65 L244.88,116.75 L245.14,116.87 L245.40,117.00 L245.66,117.15 L245.92,117.30 L246.18,117.47 L246.44,117.65 L246.70,117.83 L246.96,118.02 L247.23,118.20 L247.49,118.37 L247.75,118.54 L248.01,118.70 L248.27,118.83 L248.53,118.96 L248.79,119.09 L249.05,119.20 L249.31,119.31 L249.57,119.40 L249.83,119.49 L250.09,119.56 L250.35,119.63 L250.61,119.67 L250.87,119.71 L251.13,119.73 L251.39,119.74 L251.65,119.73 L251.91,119.71 L252.17,119.68 L252.43,119.63 L252.69,119.56 L252.95,119.48 L253.21,119.38 L253.47,119.26 L253.73,119.13 L253.99,118.99 L254.25,118.85 L254.51,118.70 L254.77,118.55 L255.03,118.40 L255.29,118.26 L255.55,118.11 L255.81,117.96 L256.08,117.82 L256.34,117.68 L256.60,117.55 L256.86,117.42 L257.12,117.29 L257.38,117.15 L257.64,117.02 L257.90,116.89 L258.16,116.76 L258.42,116.63 L258.68,116.49 L258.94,116.36 L259.20,116.23 L259.46,116.10 L259.72,115.98 L259.98,115.85 L260.24,115.72 L260.50,115.60" fill="none" stroke="#4a34cc" stroke-width="1.1" stroke-linejoin="round"/>
<rect x="175.5" y="12.5" width="79.5" height="19.8" fill="#fff" stroke="#4a4a4a" stroke-width="0.7"/>
<line x1="178.2" y1="18.4" x2="199.2" y2="18.4" stroke="#8c6c40" stroke-width="0.9" stroke-dasharray="3.6 2.8"/>
<line x1="178.2" y1="27.3" x2="199.2" y2="27.3" stroke="#4a34cc" stroke-width="0.9"/>
<text class="lg" x="200.9" y="20.7">Proposed method</text>
<text class="lg" x="200.9" y="29.6">PD controller</text>
<text class="lb" x="143.5" y="213.8" text-anchor="middle">Time[s]</text>
<text class="lb" transform="translate(10.9,99.5) rotate(-90)" text-anchor="middle">Displacement[mm]</text>
</g>
<g id="right">
<rect x="310.5" y="7.5" width="234.0" height="184.0" fill="none" stroke="#585858" stroke-width="0.8"/>
<path d="M310.50,191.5 v-2.4 M310.50,7.5 v2.4 M388.50,191.5 v-2.4 M388.50,7.5 v2.4 M466.50,191.5 v-2.4 M466.50,7.5 v2.4 M544.50,191.5 v-2.4 M544.50,7.5 v2.4 M310.5,7.50 h2.4 M544.5,7.50 h-2.4 M310.5,33.79 h2.4 M544.5,33.79 h-2.4 M310.5,60.07 h2.4 M544.5,60.07 h-2.4 M310.5,86.36 h2.4 M544.5,86.36 h-2.4 M310.5,112.64 h2.4 M544.5,112.64 h-2.4 M310.5,138.93 h2.4 M544.5,138.93 h-2.4 M310.5,165.21 h2.4 M544.5,165.21 h-2.4 M310.5,191.50 h2.4 M544.5,191.50 h-2.4 " stroke="#585858" stroke-width="0.7" fill="none"/>
<text class="tk" x="310.50" y="202.1" text-anchor="middle">0</text>
<text class="tk" x="388.50" y="202.1" text-anchor="middle">5</text>
<text class="tk" x="466.50" y="202.1" text-anchor="middle">10</text>
<text class="tk" x="544.50" y="202.1" text-anchor="middle">15</text>
<text class="tk" x="307.30" y="10.40" text-anchor="end">3.5</text>
<text class="tk" x="307.30" y="36.69" text-anchor="end">3</text>
<text class="tk" x="307.30" y="62.97" text-anchor="end">2.5</text>
<text class="tk" x="307.30" y="89.26" text-anchor="end">2</text>
<text class="tk" x="307.30" y="115.54" text-anchor="end">1.5</text>
<text class="tk" x="307.30" y="141.83" text-anchor="end">1</text>
<text class="tk" x="307.30" y="168.11" text-anchor="end">0.5</text>
<text class="tk" x="307.30" y="194.40" text-anchor="end">0</text>
<path d="M310.50,191.50 L310.50,104.51 L310.70,103.53 L310.90,102.55 L311.10,101.58 L311.30,100.62 L311.50,99.67 L311.70,98.74 L311.90,97.83 L312.10,96.94 L312.30,96.07 L312.50,95.22 L312.70,94.41 L312.90,93.62 L313.10,92.86 L313.30,92.14 L313.50,91.45 L313.70,90.80 L313.90,90.19 L314.10,89.62 L314.30,89.09 L314.50,88.60 L314.70,88.16 L314.90,87.77 L315.10,87.42 L315.30,87.12 L315.50,86.87 L315.70,86.67 L315.90,86.52 L316.10,86.41 L316.30,86.36 L316.50,86.36 L316.70,86.41 L316.90,86.52 L317.10,86.67 L317.30,86.87 L317.50,87.12 L317.70,87.42 L317.90,87.77 L318.10,88.16 L318.30,88.60 L318.50,89.09 L318.70,89.62 L318.90,90.19 L319.10,90.80 L319.30,91.45 L319.50,92.14 L319.70,92.86 L319.90,93.62 L320.10,94.41 L320.30,95.22 L320.50,96.07 L320.70,96.94 L320.90,97.83 L321.10,98.74 L321.30,99.67 L321.50,100.62 L321.70,101.58 L321.90,102.55 L322.10,103.53 L322.30,104.51 L322.50,105.49 L322.70,105.49 L322.90,105.49 L323.10,105.49 L323.30,105.49 L323.50,105.49 L323.70,105.49 L323.90,105.49 L324.10,105.49 L324.30,105.49 L324.50,105.49 L324.70,105.49 L324.90,105.49 L325.10,105.49 L325.30,105.49 L325.50,105.49 L325.70,105.49 L325.90,105.49 L326.10,105.49 L326.30,105.49 L326.50,105.49 L326.70,105.49 L326.90,105.49 L327.10,105.49 L327.30,105.49 L327.50,105.49 L327.70,105.49 L327.90,105.49 L328.10,105.49 L328.30,105.49 L328.50,105.49 L328.70,105.49 L328.90,105.49 L329.10,105.49 L329.30,105.49 L329.50,105.49 L329.70,105.49 L329.90,105.49 L330.10,105.49 L330.30,105.49 L330.50,105.49 L330.70,105.49 L330.90,105.49 L331.10,105.49 L331.30,105.49 L331.50,105.49 L331.70,105.49 L331.90,105.49 L332.10,105.49 L332.30,105.49 L332.50,105.49 L332.70,105.49 L332.90,105.49 L333.10,105.49 L333.30,105.49 L333.50,105.49 L333.70,105.49 L333.90,105.49 L334.10,104.51 L334.30,103.53 L334.50,102.55 L334.70,101.58 L334.90,100.62 L335.10,99.67 L335.30,98.74 L335.50,97.83 L335.70,96.94 L335.90,96.07 L336.10,95.22 L336.30,94.41 L336.50,93.62 L336.70,92.86 L336.90,92.14 L337.10,91.45 L337.30,90.80 L337.50,90.19 L337.70,89.62 L337.90,89.09 L338.10,88.60 L338.30,88.16 L338.50,87.77 L338.70,87.42 L338.90,87.12 L339.10,86.87 L339.30,86.67 L339.50,86.52 L339.70,86.41 L339.90,86.36 L340.10,86.36 L340.30,86.41 L340.50,86.52 L340.70,86.67 L340.90,86.87 L341.10,87.12 L341.30,87.42 L341.50,87.77 L341.70,88.16 L341.90,88.60 L342.10,89.09 L342.30,89.62 L342.50,90.19 L342.70,90.80 L342.90,91.45 L343.10,92.14 L343.30,92.86 L343.50,93.62 L343.70,94.41 L343.90,95.22 L344.10,96.07 L344.30,96.94 L344.50,97.83 L344.70,98.74 L344.90,99.67 L345.10,100.62 L345.30,101.58 L345.50,102.55 L345.70,103.53 L345.90,104.51 L346.10,105.49 L346.30,105.49 L346.50,105.49 L346.70,105.49 L346.90,105.49 L347.10,105.49 L347.30,105.49 L347.50,105.49 L347.70,105.49 L347.90,105.49 L348.10,105.49 L348.30,105.49 L348.50,105.49 L348.70,105.49 L348.90,105.49 L349.10,105.49 L349.30,105.49 L349.50,105.49 L349.70,105.49 L349.90,105.49 L350.10,105.49 L350.30,105.49 L350.50,105.49 L350.70,105.49 L350.90,105.49 L351.10,105.49 L351.30,105.49 L351.50,105.49 L351.70,105.49 L351.90,105.49 L352.10,105.49 L352.30,105.49 L352.50,105.49 L352.70,105.49 L352.90,105.49 L353.10,105.49 L353.30,105.49 L353.50,105.49 L353.70,105.49 L353.90,105.49 L354.10,105.49 L354.30,105.49 L354.50,105.49 L354.70,105.49 L354.90,105.49 L355.10,105.49 L355.30,105.49 L355.50,105.49 L355.70,105.49 L355.90,105.49 L356.10,105.49 L356.30,105.49 L356.50,105.49 L356.70,105.49 L356.90,105.49 L357.10,105.49 L357.30,105.49 L357.50,105.49 L357.70,104.51 L357.90,103.53 L358.10,102.55 L358.30,101.58 L358.50,100.62 L358.70,99.67 L358.90,98.74 L359.10,97.83 L359.30,96.94 L359.50,96.07 L359.70,95.22 L359.90,94.41 L360.10,93.62 L360.30,92.86 L360.50,92.14 L360.70,91.45 L360.90,90.80 L361.10,90.19 L361.30,89.62 L361.50,89.09 L361.70,88.60 L361.90,88.16 L362.10,87.77 L362.30,87.42 L362.50,87.12 L362.70,86.87 L362.90,86.67 L363.10,86.52 L363.30,86.41 L363.50,86.36 L363.70,86.36 L363.90,86.41 L364.10,86.52 L364.30,86.67 L364.50,86.87 L364.70,87.12 L364.90,87.42 L365.10,87.77 L365.30,88.16 L365.50,88.60 L365.70,89.09 L365.90,89.62 L366.10,90.19 L366.30,90.80 L366.50,91.45 L366.70,92.14 L366.90,92.86 L367.10,93.62 L367.30,94.41 L367.50,95.22 L367.70,96.07 L367.90,96.94 L368.10,97.83 L368.30,98.74 L368.50,99.67 L368.70,100.62 L368.90,101.58 L369.10,102.55 L369.30,103.53 L369.50,104.51 L369.70,105.49 L369.90,105.49 L370.10,105.49 L370.30,105.49 L370.50,105.49 L370.70,105.49 L370.90,105.49 L371.10,105.49 L371.30,105.49 L371.50,105.49 L371.70,105.49 L371.90,105.49 L372.10,105.49 L372.30,105.49 L372.50,105.49 L372.70,105.49 L372.90,105.49 L373.10,105.49 L373.30,105.49 L373.50,105.49 L373.70,105.49 L373.90,105.49 L374.10,105.49 L374.30,105.49 L374.50,105.49 L374.70,105.49 L374.90,105.49 L375.10,105.49 L375.30,105.49 L375.50,105.49 L375.70,105.49 L375.90,105.49 L376.10,105.49 L376.30,105.49 L376.50,105.49 L376.70,105.49 L376.90,105.49 L377.10,105.49 L377.30,105.49 L377.50,105.49 L377.70,105.49 L377.90,105.49 L378.10,105.49 L378.30,105.49 L378.50,105.49 L378.70,105.49 L378.90,105.49 L379.10,105.49 L379.30,105.49 L379.50,105.49 L379.70,105.49 L379.90,105.49 L380.10,105.49 L380.30,105.49 L380.50,105.49 L380.70,105.49 L380.90,105.49 L381.10,105.49 L381.30,104.51 L381.50,103.53 L381.70,102.55 L381.90,101.58 L382.10,100.62 L382.30,99.67 L382.50,98.74 L382.70,97.83 L382.90,96.94 L383.10,96.07 L383.30,95.22 L383.50,94.41 L383.70,93.62 L383.90,92.86 L384.10,92.14 L384.30,91.45 L384.50,90.80 L384.70,90.19 L384.90,89.62 L385.10,89.09 L385.30,88.60 L385.50,88.16 L385.70,87.77 L385.90,87.42 L386.10,87.12 L386.30,86.87 L386.50,86.67 L386.70,86.52 L386.90,86.41 L387.10,86.36 L387.30,86.36 L387.50,86.41 L387.70,86.52 L387.90,86.67 L388.10,86.87 L388.30,87.12 L388.50,87.42 L388.70,87.77 L388.90,88.16 L389.10,88.60 L389.30,89.09 L389.50,89.62 L389.70,90.19 L389.90,90.80 L390.10,91.45 L390.30,92.14 L390.50,92.86 L390.70,93.62 L390.90,94.41 L391.10,95.22 L391.30,96.07 L391.50,96.94 L391.70,97.83 L391.90,98.74 L392.10,99.67 L392.30,100.62 L392.50,101.58 L392.70,102.55 L392.90,103.53 L393.10,104.51 L393.30,105.49 L393.50,105.49 L393.70,105.49 L393.90,105.49 L394.10,105.49 L394.30,105.49 L394.50,105.49 L394.70,105.49 L394.90,105.49 L395.10,105.49 L395.30,105.49 L395.50,105.49 L395.70,105.49 L395.90,105.49 L396.10,105.49 L396.30,105.49 L396.50,105.49 L396.70,105.49 L396.90,105.49 L397.10,105.49 L397.30,105.49 L397.50,105.49 L397.70,105.49 L397.90,105.49 L398.10,105.49 L398.30,105.49 L398.50,105.49 L398.70,105.49 L398.90,105.49 L399.10,105.49 L399.30,105.49 L399.50,105.49 L399.70,105.49 L399.90,105.49 L400.10,105.49 L400.30,105.49 L400.50,105.49 L400.70,105.49 L400.90,105.49 L401.10,105.49 L401.30,105.49 L401.50,105.49 L401.70,105.49 L401.90,105.49 L402.10,105.49 L402.30,105.49 L402.50,105.49 L402.70,105.49 L402.90,105.49 L403.10,105.49 L403.30,105.49 L403.50,105.49 L403.70,105.49 L403.90,105.49 L404.10,165.21 L404.30,165.21 L404.50,165.21 L404.70,165.21 L404.90,165.21 L405.10,165.21 L405.30,165.21 L405.50,165.21 L405.70,165.21 L405.90,165.21 L406.10,165.21 L406.30,165.21 L406.50,165.21 L406.70,165.21 L406.90,165.21 L407.10,165.21 L407.30,165.21 L407.50,165.21 L407.70,165.21 L407.90,165.21 L408.10,165.21 L408.30,165.21 L408.50,165.21 L408.70,165.21 L408.90,165.21 L409.10,165.21 L409.30,165.21 L409.50,165.21 L409.70,165.21 L409.90,165.21 L410.10,165.21 L410.30,165.21 L410.50,165.21 L410.70,165.21 L410.90,156.66 L411.10,158.22 L411.30,150.00 L411.50,140.57 L411.70,128.20 L411.90,113.00 L412.10,98.88 L412.30,85.68 L412.50,74.72 L412.70,64.38 L412.90,55.23 L413.10,48.30 L413.30,44.24 L413.50,41.24 L413.70,38.81 L413.90,36.84 L414.10,35.22 L414.30,33.80 L414.50,32.40 L414.70,31.11 L414.90,30.05 L415.10,29.32 L415.30,29.05 L415.50,29.32 L415.70,30.05 L415.90,31.11 L416.10,32.40 L416.30,33.80 L416.50,35.26 L416.70,37.13 L416.90,39.37 L417.10,41.90 L417.30,44.61 L417.50,47.44 L417.70,50.55 L417.90,53.94 L418.10,57.57 L418.30,61.40 L418.50,65.39 L418.70,69.49 L418.90,73.67 L419.10,77.89 L419.30,82.08 L419.50,86.17 L419.70,90.27 L419.90,94.55 L420.10,99.14 L420.30,104.20 L420.50,109.88 L420.70,116.60 L420.90,125.42 L421.10,135.00 L421.30,145.22 L421.50,154.24 L421.70,161.90 L421.90,165.21 L422.10,165.21 L422.30,165.21 L422.50,165.21 L422.70,165.21 L422.90,165.21 L423.10,165.21 L423.30,165.21 L423.50,165.21 L423.70,165.21 L423.90,165.21 L424.10,165.21 L424.30,165.21 L424.50,165.21 L424.70,165.21 L424.90,165.21 L425.10,165.21 L425.30,165.21 L425.50,165.21 L425.70,165.21 L425.90,163.10 L426.10,158.89 L426.30,154.69 L426.50,150.54 L426.70,146.44 L426.90,142.41 L427.10,138.46 L427.30,134.61 L427.50,130.87 L427.70,127.25 L427.90,123.78 L428.10,120.45 L428.30,117.29 L428.50,114.30 L428.70,111.50 L428.90,108.90 L429.10,106.50 L429.30,104.31 L429.50,102.35 L429.70,100.62 L429.90,99.12 L430.10,97.86 L430.30,96.85 L430.50,96.09 L430.70,95.58 L430.90,95.33 L431.10,95.33 L431.30,95.58 L431.50,96.09 L431.70,96.85 L431.90,97.86 L432.10,99.12 L432.30,100.62 L432.50,102.35 L432.70,104.31 L432.90,106.50 L433.10,108.90 L433.30,111.50 L433.50,114.30 L433.70,117.29 L433.90,120.45 L434.10,123.78 L434.30,127.25 L434.50,130.87 L434.70,134.61 L434.90,138.46 L435.10,142.41 L435.30,146.44 L435.50,150.54 L435.70,154.69 L435.90,158.89 L436.10,163.10 L436.30,165.21 L436.50,165.21 L436.70,165.21 L436.90,165.21 L437.10,165.21 L437.30,165.21 L437.50,165.21 L437.70,165.21 L437.90,165.21 L438.10,165.21 L438.30,165.21 L438.50,165.21 L438.70,165.21 L438.90,165.21 L439.10,165.21 L439.30,165.21 L439.50,165.21 L439.70,165.21 L439.90,165.21 L440.10,165.21 L440.30,165.21 L440.50,165.21 L440.70,165.21 L440.90,165.21 L441.10,165.21 L441.30,165.21 L441.50,165.21 L441.70,165.21 L441.90,165.21 L442.10,165.21 L442.30,165.21 L442.50,165.21 L442.70,165.21 L442.90,163.52 L443.10,161.84 L443.30,160.18 L443.50,158.56 L443.70,156.98 L443.90,155.46 L444.10,154.00 L444.30,152.62 L444.50,151.33 L444.70,150.13 L444.90,149.03 L445.10,148.05 L445.30,147.18 L445.50,146.44 L445.70,145.82 L445.90,145.34 L446.10,144.99 L446.30,144.78 L446.50,144.71 L446.70,144.78 L446.90,144.99 L447.10,145.34 L447.30,145.82 L447.50,146.44 L447.70,147.18 L447.90,148.05 L448.10,149.03 L448.30,150.13 L448.50,151.33 L448.70,152.62 L448.90,154.00 L449.10,155.46 L449.30,156.98 L449.50,158.56 L449.70,160.18 L449.90,161.84 L450.10,163.52 L450.30,165.21 L450.50,165.21 L450.70,165.21 L450.90,165.21 L451.10,165.21 L451.30,165.21 L451.50,165.21 L451.70,165.21 L451.90,165.21 L452.10,165.21 L452.30,165.21 L452.50,165.21 L452.70,165.21 L452.90,165.21 L453.10,165.21 L453.30,165.21 L453.50,165.21 L453.70,165.21 L453.90,165.21 L454.10,165.21 L454.30,165.21 L454.50,165.21 L454.70,165.21 L454.90,165.21 L455.10,165.21 L455.30,165.21 L455.50,165.21 L455.70,165.21 L455.90,165.21 L456.10,165.21 L456.30,165.21 L456.50,165.21 L456.70,165.21 L456.90,165.21 L457.10,165.21 L457.30,163.61 L457.50,162.01 L457.70,160.44 L457.90,158.90 L458.10,157.40 L458.30,155.96 L458.50,154.58 L458.70,153.27 L458.90,152.04 L459.10,150.90 L459.30,149.86 L459.50,148.93 L459.70,148.11 L459.90,147.40 L460.10,146.82 L460.30,146.36 L460.50,146.03 L460.70,145.83 L460.90,145.76 L461.10,145.83 L461.30,146.03 L461.50,146.36 L461.70,146.82 L461.90,147.40 L462.10,148.11 L462.30,148.93 L462.50,149.86 L462.70,150.90 L462.90,152.04 L463.10,153.27 L463.30,154.58 L463.50,155.96 L463.70,157.40 L463.90,158.90 L464.10,160.44 L464.30,162.01 L464.50,163.61 L464.70,165.21 L464.90,165.21 L465.10,165.21 L465.30,165.21 L465.50,165.21 L465.70,165.21 L465.90,165.21 L466.10,165.21 L466.30,165.21 L466.50,165.21 L466.70,165.21 L466.90,165.21 L467.10,165.21 L467.30,165.21 L467.50,165.21 L467.70,165.21 L467.90,165.21 L468.10,165.21 L468.30,165.21 L468.50,165.21 L468.70,165.21 L468.90,165.21 L469.10,165.21 L469.30,165.21 L469.50,165.21 L469.70,165.21 L469.90,165.21 L470.10,165.21 L470.30,165.21 L470.50,165.21 L470.70,165.21 L470.90,165.21 L471.10,165.21 L471.30,165.21 L471.50,165.21 L471.70,164.37 L471.90,162.68 L472.10,161.01 L472.30,159.36 L472.50,157.76 L472.70,156.21 L472.90,154.72 L473.10,153.30 L473.30,151.96 L473.50,150.72 L473.70,149.57 L473.90,148.53 L474.10,147.60 L474.30,146.79 L474.50,146.11 L474.70,145.56 L474.90,145.15 L475.10,144.87 L475.30,144.73 L475.50,144.73 L475.70,144.87 L475.90,145.15 L476.10,145.56 L476.30,146.11 L476.50,146.79 L476.70,147.60 L476.90,148.53 L477.10,149.57 L477.30,150.72 L477.50,151.96 L477.70,153.30 L477.90,154.72 L478.10,156.21 L478.30,157.76 L478.50,159.36 L478.70,161.01 L478.90,162.68 L479.10,164.37 L479.30,165.21 L479.50,165.21 L479.70,165.21 L479.90,165.21 L480.10,165.21 L480.30,165.21 L480.50,165.21 L480.70,165.21 L480.90,165.21 L481.10,165.21 L481.30,165.21 L481.50,165.21 L481.70,165.21 L481.90,165.21 L482.10,165.21 L482.30,165.21 L482.50,165.21 L482.70,165.21 L482.90,165.21 L483.10,165.21 L483.30,165.21 L483.50,165.21 L483.70,165.21 L483.90,165.21 L484.10,165.21 L484.30,165.21 L484.50,165.21 L484.70,165.21 L484.90,165.21 L485.10,165.21 L485.30,165.21 L485.50,165.21 L485.70,165.21 L485.90,165.21 L486.10,165.21 L486.30,165.21 L486.50,165.21 L486.70,165.21 L486.90,165.21 L487.10,165.21 L487.30,165.21 L487.50,164.08 L487.70,162.95 L487.90,161.84 L488.10,160.75 L488.30,159.69 L488.50,158.68 L488.70,157.71 L488.90,156.79 L489.10,155.94 L489.30,155.15 L489.50,154.44 L489.70,153.80 L489.90,153.24 L490.10,152.78 L490.30,152.40 L490.50,152.11 L490.70,151.92 L490.90,151.82 L491.10,151.82 L491.30,151.92 L491.50,152.11 L491.70,152.40 L491.90,152.78 L492.10,153.24 L492.30,153.80 L492.50,154.44 L492.70,155.15 L492.90,155.94 L493.10,156.79 L493.30,157.71 L493.50,158.68 L493.70,159.69 L493.90,160.75 L494.10,161.84 L494.30,162.95 L494.50,164.08 L494.70,165.21 L494.90,165.21 L495.10,165.21 L495.30,165.21 L495.50,165.21 L495.70,165.21 L495.90,165.21 L496.10,165.21 L496.30,165.21 L496.50,165.21 L496.70,165.21 L496.90,165.21 L497.10,165.21 L497.30,165.21 L497.50,165.21 L497.70,165.21 L497.90,165.21 L498.10,165.21 L498.30,165.21 L498.50,165.21 L498.70,165.21 L498.90,165.21 L499.10,165.21 L499.30,165.21 L499.50,165.21 L499.70,165.21 L499.90,165.21 L500.10,165.21 L500.30,165.21 L500.50,165.21 L500.70,165.21 L500.90,165.21 L501.10,165.21 L501.30,165.21 L501.50,165.21 L501.70,165.21 L501.90,164.71 L502.10,163.71 L502.30,162.72 L502.50,161.75 L502.70,160.80 L502.90,159.89 L503.10,159.01 L503.30,158.18 L503.50,157.40 L503.70,156.67 L503.90,156.01 L504.10,155.41 L504.30,154.89 L504.50,154.44 L504.70,154.06 L504.90,153.77 L505.10,153.56 L505.30,153.43 L505.50,153.39 L505.70,153.43 L505.90,153.56 L506.10,153.77 L506.30,154.06 L506.50,154.44 L506.70,154.89 L506.90,155.41 L507.10,156.01 L507.30,156.67 L507.50,157.40 L507.70,158.18 L507.90,159.01 L508.10,159.89 L508.30,160.80 L508.50,161.75 L508.70,162.72 L508.90,163.71 L509.10,164.71 L509.30,165.21 L509.50,165.21 L509.70,165.21 L509.90,165.21 L510.10,165.21 L510.30,165.21 L510.50,165.21 L510.70,165.21 L510.90,165.21 L511.10,165.21 L511.30,165.21 L511.50,165.21 L511.70,165.21 L511.90,165.21 L512.10,165.21 L512.30,165.21 L512.50,165.21 L512.70,165.21 L512.90,165.21 L513.10,165.21 L513.30,165.21 L513.50,165.21 L513.70,165.21 L513.90,165.21 L514.10,165.21 L514.30,165.21 L514.50,165.21 L514.70,165.21 L514.90,165.21 L515.10,165.21 L515.30,165.21 L515.50,165.21 L515.70,165.21 L515.90,165.21 L516.10,165.21 L516.30,165.21 L516.50,164.30 L516.70,163.39 L516.90,162.50 L517.10,161.62 L517.30,160.78 L517.50,159.96 L517.70,159.18 L517.90,158.44 L518.10,157.76 L518.30,157.12 L518.50,156.55 L518.70,156.04 L518.90,155.59 L519.10,155.21 L519.30,154.91 L519.50,154.68 L519.70,154.52 L519.90,154.45 L520.10,154.45 L520.30,154.52 L520.50,154.68 L520.70,154.91 L520.90,155.21 L521.10,155.59 L521.30,156.04 L521.50,156.55 L521.70,157.12 L521.90,157.76 L522.10,158.44 L522.30,159.18 L522.50,159.96 L522.70,160.78 L522.90,161.62 L523.10,162.50 L523.30,163.39 L523.50,164.30 L523.70,165.21 L523.90,165.21 L524.10,165.21 L524.30,165.21 L524.50,165.21 L524.70,165.21 L524.90,165.21 L525.10,165.21 L525.30,165.21 L525.50,165.21 L525.70,165.21 L525.90,165.21 L526.10,165.21 L526.30,165.21 L526.50,165.21 L526.70,165.21 L526.90,165.21 L527.10,165.21 L527.30,165.21 L527.50,165.21 L527.70,165.21 L527.90,165.21 L528.10,165.21 L528.30,165.21 L528.50,165.21 L528.70,165.21 L528.90,165.21 L529.10,165.21 L529.30,165.21 L529.50,165.21 L529.70,165.21 L529.90,165.21 L530.10,165.21 L530.30,165.21 L530.50,165.21 L530.70,165.21 L530.90,165.21 L531.10,165.21 L531.30,165.21 L531.50,165.21 L531.70,165.21 L531.90,164.61 L532.10,163.39 L532.30,162.19 L532.50,161.01 L532.70,159.86 L532.90,158.75 L533.10,157.68 L533.30,156.66 L533.50,155.70 L533.70,154.81 L533.90,153.98 L534.10,153.23 L534.30,152.57 L534.50,151.99 L534.70,151.50 L534.90,151.11 L535.10,150.81 L535.30,150.61 L535.50,150.51 L535.70,150.51 L535.90,150.61 L536.10,150.81 L536.30,151.11 L536.50,151.50 L536.70,151.99 L536.90,152.57 L537.10,153.23 L537.30,153.98 L537.50,154.81 L537.70,155.70 L537.90,156.66 L538.10,157.68 L538.30,158.75 L538.50,159.86 L538.70,161.01 L538.90,162.19 L539.10,163.39 L539.30,164.61 L539.50,165.21 L539.70,165.21 L539.90,165.21 L540.10,165.21 L540.30,165.21 L540.50,165.21 L540.70,165.21 L540.90,165.21 L541.10,165.21 L541.30,165.21 L541.50,165.21 L541.70,165.21 L541.90,165.21 L542.10,165.21 L542.30,165.21 L542.50,165.21 L542.70,165.21 L542.90,165.21 L543.10,165.21 L543.30,165.21 L543.50,165.21 L543.70,165.21 L543.90,165.21 L544.10,165.21 L544.30,165.21 L544.50,165.21" fill="none" stroke="#4a34cc" stroke-width="1.0" stroke-linejoin="round"/>
<path d="M310.50,191.50 L310.50,116.48 L310.70,116.48 L310.90,116.48 L311.10,116.48 L311.30,116.48 L311.50,116.48 L311.70,116.48 L311.90,116.48 L312.10,116.48 L312.30,116.48 L312.50,116.48 L312.70,116.48 L312.90,116.48 L313.10,116.48 L313.30,116.48 L313.50,116.48 L313.70,116.48 L313.90,116.48 L314.10,116.48 L314.30,116.48 L314.50,116.48 L314.70,116.48 L314.90,116.48 L315.10,116.48 L315.30,116.48 L315.50,116.48 L315.70,116.48 L315.90,116.48 L316.10,116.48 L316.30,116.48 L316.50,116.48 L316.70,116.48 L316.90,116.48 L317.10,116.48 L317.30,116.48 L317.50,116.48 L317.70,116.48 L317.90,116.48 L318.10,116.48 L318.30,116.48 L318.50,116.48 L318.70,116.48 L318.90,116.48 L319.10,116.48 L319.30,116.48 L319.50,116.48 L319.70,116.48 L319.90,116.48 L320.10,116.48 L320.30,116.48 L320.50,116.48 L320.70,116.48 L320.90,116.48 L321.10,116.48 L321.30,116.48 L321.50,116.48 L321.70,116.48 L321.90,116.48 L322.10,116.48 L322.30,116.48 L322.50,116.48 L322.70,116.48 L322.90,116.48 L323.10,115.95 L323.30,114.88 L323.50,113.81 L323.70,112.76 L323.90,111.72 L324.10,110.69 L324.30,109.69 L324.50,108.70 L324.70,107.75 L324.90,106.82 L325.10,105.93 L325.30,105.07 L325.50,104.25 L325.70,103.47 L325.90,102.74 L326.10,102.05 L326.30,101.41 L326.50,100.82 L326.70,100.28 L326.90,99.80 L327.10,99.38 L327.30,99.01 L327.50,98.71 L327.70,98.46 L327.90,98.27 L328.10,98.15 L328.30,98.09 L328.50,98.09 L328.70,98.15 L328.90,98.27 L329.10,98.46 L329.30,98.71 L329.50,99.01 L329.70,99.38 L329.90,99.80 L330.10,100.28 L330.30,100.82 L330.50,101.41 L330.70,102.05 L330.90,102.74 L331.10,103.47 L331.30,104.25 L331.50,105.07 L331.70,105.93 L331.90,106.82 L332.10,107.75 L332.30,108.70 L332.50,109.69 L332.70,110.69 L332.90,111.72 L333.10,112.76 L333.30,113.81 L333.50,114.88 L333.70,115.95 L333.90,116.48 L334.10,116.48 L334.30,116.48 L334.50,116.48 L334.70,116.48 L334.90,116.48 L335.10,116.48 L335.30,116.48 L335.50,116.48 L335.70,116.48 L335.90,116.48 L336.10,116.48 L336.30,116.48 L336.50,116.48 L336.70,116.48 L336.90,116.48 L337.10,116.48 L337.30,116.48 L337.50,116.48 L337.70,116.48 L337.90,116.48 L338.10,116.48 L338.30,116.48 L338.50,116.48 L338.70,116.48 L338.90,116.48 L339.10,116.48 L339.30,116.48 L339.50,116.48 L339.70,116.48 L339.90,116.48 L340.10,116.48 L340.30,116.48 L340.50,116.48 L340.70,116.48 L340.90,116.48 L341.10,116.48 L341.30,116.48 L341.50,116.48 L341.70,116.48 L341.90,116.48 L342.10,116.48 L342.30,116.48 L342.50,116.48 L342.70,116.48 L342.90,116.48 L343.10,116.48 L343.30,116.48 L343.50,116.48 L343.70,116.48 L343.90,116.48 L344.10,116.48 L344.30,116.48 L344.50,116.48 L344.70,116.48 L344.90,116.48 L345.10,116.48 L345.30,116.48 L345.50,116.48 L345.70,116.48 L345.90,116.48 L346.10,116.48 L346.30,116.48 L346.50,116.48 L346.70,115.95 L346.90,114.88 L347.10,113.81 L347.30,112.76 L347.50,111.72 L347.70,110.69 L347.90,109.69 L348.10,108.70 L348.30,107.75 L348.50,106.82 L348.70,105.93 L348.90,105.07 L349.10,104.25 L349.30,103.47 L349.50,102.74 L349.70,102.05 L349.90,101.41 L350.10,100.82 L350.30,100.28 L350.50,99.80 L350.70,99.38 L350.90,99.01 L351.10,98.71 L351.30,98.46 L351.50,98.27 L351.70,98.15 L351.90,98.09 L352.10,98.09 L352.30,98.15 L352.50,98.27 L352.70,98.46 L352.90,98.71 L353.10,99.01 L353.30,99.38 L353.50,99.80 L353.70,100.28 L353.90,100.82 L354.10,101.41 L354.30,102.05 L354.50,102.74 L354.70,103.47 L354.90,104.25 L355.10,105.07 L355.30,105.93 L355.50,106.82 L355.70,107.75 L355.90,108.70 L356.10,109.69 L356.30,110.69 L356.50,111.72 L356.70,112.76 L356.90,113.81 L357.10,114.88 L357.30,115.95 L357.50,116.48 L357.70,116.48 L357.90,116.48 L358.10,116.48 L358.30,116.48 L358.50,116.48 L358.70,116.48 L358.90,116.48 L359.10,116.48 L359.30,116.48 L359.50,116.48 L359.70,116.48 L359.90,116.48 L360.10,116.48 L360.30,116.48 L360.50,116.48 L360.70,116.48 L360.90,116.48 L361.10,116.48 L361.30,116.48 L361.50,116.48 L361.70,116.48 L361.90,116.48 L362.10,116.48 L362.30,116.48 L362.50,116.48 L362.70,116.48 L362.90,116.48 L363.10,116.48 L363.30,116.48 L363.50,116.48 L363.70,116.48 L363.90,116.48 L364.10,116.48 L364.30,116.48 L364.50,116.48 L364.70,116.48 L364.90,116.48 L365.10,116.48 L365.30,116.48 L365.50,116.48 L365.70,116.48 L365.90,116.48 L366.10,116.48 L366.30,116.48 L366.50,116.48 L366.70,116.48 L366.90,116.48 L367.10,116.48 L367.30,116.48 L367.50,116.48 L367.70,116.48 L367.90,116.48 L368.10,116.48 L368.30,116.48 L368.50,116.48 L368.70,116.48 L368.90,116.48 L369.10,116.48 L369.30,116.48 L369.50,116.48 L369.70,116.48 L369.90,116.48 L370.10,116.48 L370.30,115.95 L370.50,114.88 L370.70,113.81 L370.90,112.76 L371.10,111.72 L371.30,110.69 L371.50,109.69 L371.70,108.70 L371.90,107.75 L372.10,106.82 L372.30,105.93 L372.50,105.07 L372.70,104.25 L372.90,103.47 L373.10,102.74 L373.30,102.05 L373.50,101.41 L373.70,100.82 L373.90,100.28 L374.10,99.80 L374.30,99.38 L374.50,99.01 L374.70,98.71 L374.90,98.46 L375.10,98.27 L375.30,98.15 L375.50,98.09 L375.70,98.09 L375.90,98.15 L376.10,98.27 L376.30,98.46 L376.50,98.71 L376.70,99.01 L376.90,99.38 L377.10,99.80 L377.30,100.28 L377.50,100.82 L377.70,101.41 L377.90,102.05 L378.10,102.74 L378.30,103.47 L378.50,104.25 L378.70,105.07 L378.90,105.93 L379.10,106.82 L379.30,107.75 L379.50,108.70 L379.70,109.69 L379.90,110.69 L380.10,111.72 L380.30,112.76 L380.50,113.81 L380.70,114.88 L380.90,115.95 L381.10,116.48 L381.30,116.48 L381.50,116.48 L381.70,116.48 L381.90,116.48 L382.10,116.48 L382.30,116.48 L382.50,116.48 L382.70,116.48 L382.90,116.48 L383.10,116.48 L383.30,116.48 L383.50,116.48 L383.70,116.48 L383.90,116.48 L384.10,116.48 L384.30,116.48 L384.50,116.48 L384.70,116.48 L384.90,116.48 L385.10,116.48 L385.30,116.48 L385.50,116.48 L385.70,116.48 L385.90,116.48 L386.10,116.48 L386.30,116.48 L386.50,116.48 L386.70,116.48 L386.90,116.48 L387.10,116.48 L387.30,116.48 L387.50,116.48 L387.70,116.48 L387.90,116.48 L388.10,116.48 L388.30,116.48 L388.50,116.48 L388.70,116.48 L388.90,116.48 L389.10,116.48 L389.30,116.48 L389.50,116.48 L389.70,116.48 L389.90,116.48 L390.10,116.48 L390.30,116.48 L390.50,116.48 L390.70,116.48 L390.90,116.48 L391.10,116.48 L391.30,116.48 L391.50,116.48 L391.70,116.48 L391.90,116.48 L392.10,116.48 L392.30,116.48 L392.50,116.48 L392.70,116.48 L392.90,116.48 L393.10,116.48 L393.30,116.48 L393.50,116.48 L393.70,116.48 L393.90,115.95 L394.10,114.88 L394.30,113.81 L394.50,112.76 L394.70,111.72 L394.90,110.69 L395.10,109.69 L395.30,108.70 L395.50,107.75 L395.70,106.82 L395.90,105.93 L396.10,105.07 L396.30,104.25 L396.50,103.47 L396.70,102.74 L396.90,102.05 L397.10,101.41 L397.30,100.82 L397.50,100.28 L397.70,99.80 L397.90,99.38 L398.10,99.01 L398.30,98.71 L398.50,98.46 L398.70,98.27 L398.90,98.15 L399.10,98.09 L399.30,98.09 L399.50,98.15 L399.70,98.27 L399.90,98.46 L400.10,98.71 L400.30,99.01 L400.50,99.38 L400.70,99.80 L400.90,100.28 L401.10,100.82 L401.30,101.41 L401.50,102.05 L401.70,102.74 L401.90,103.47 L402.10,104.25 L402.30,105.07 L402.50,105.93 L402.70,106.82 L402.90,107.75 L403.10,108.70 L403.30,109.69 L403.50,110.69 L403.70,111.72 L403.90,112.76 L404.10,145.82 L404.30,143.85 L404.50,141.90 L404.70,139.98 L404.90,138.11 L405.10,136.30 L405.30,134.56 L405.50,132.91 L405.70,131.36 L405.90,129.91 L406.10,128.59 L406.30,127.39 L406.50,126.33 L406.70,125.41 L406.90,124.64 L407.10,124.03 L407.30,123.58 L407.50,123.29 L407.70,123.16 L407.90,123.20 L408.10,123.41 L408.30,123.78 L408.50,124.32 L408.70,125.01 L408.90,125.85 L409.10,126.84 L409.30,127.97 L409.50,129.23 L409.70,130.62 L409.90,132.12 L410.10,133.72 L410.30,135.42 L410.50,137.19 L410.70,139.03 L410.90,140.93 L411.10,142.87 L411.30,144.83 L411.50,146.81 L411.70,180.99 L411.90,180.99 L412.10,180.99 L412.30,180.99 L412.50,180.99 L412.70,180.99 L412.90,180.99 L413.10,180.99 L413.30,180.99 L413.50,180.99 L413.70,180.99 L413.90,180.99 L414.10,180.99 L414.30,180.99 L414.50,180.99 L414.70,180.99 L414.90,180.99 L415.10,180.99 L415.30,180.99 L415.50,180.99 L415.70,180.99 L415.90,180.99 L416.10,180.99 L416.30,180.99 L416.50,180.99 L416.70,180.99 L416.90,180.99 L417.10,180.99 L417.30,180.99 L417.50,180.99 L417.70,180.99 L417.90,180.99 L418.10,180.99 L418.30,180.99 L418.50,180.99 L418.70,180.99 L418.90,180.99 L419.10,180.99 L419.30,180.99 L419.50,180.99 L419.70,180.99 L419.90,180.99 L420.10,180.99 L420.30,180.99 L420.50,180.99 L420.70,180.99 L420.90,179.50 L421.10,178.03 L421.30,176.60 L421.50,175.21 L421.70,173.89 L421.90,172.64 L422.10,171.49 L422.30,170.44 L422.50,169.50 L422.70,168.69 L422.90,168.02 L423.10,167.49 L423.30,167.10 L423.50,166.87 L423.70,166.79 L423.90,166.87 L424.10,167.10 L424.30,167.49 L424.50,168.02 L424.70,168.69 L424.90,169.50 L425.10,170.44 L425.30,171.49 L425.50,172.64 L425.70,173.89 L425.90,175.21 L426.10,176.60 L426.30,178.03 L426.50,179.50 L426.70,180.99 L426.90,180.99 L427.10,180.99 L427.30,180.99 L427.50,180.99 L427.70,180.99 L427.90,180.99 L428.10,180.99 L428.30,180.99 L428.50,180.99 L428.70,180.99 L428.90,180.99 L429.10,180.99 L429.30,180.99 L429.50,180.99 L429.70,180.99 L429.90,180.99 L430.10,180.99 L430.30,180.99 L430.50,180.99 L430.70,180.99 L430.90,180.99 L431.10,180.99 L431.30,180.99 L431.50,180.99 L431.70,180.99 L431.90,180.99 L432.10,180.99 L432.30,180.99 L432.50,180.99 L432.70,180.99 L432.90,180.99 L433.10,180.99 L433.30,180.99 L433.50,180.99 L433.70,180.99 L433.90,180.99 L434.10,180.99 L434.30,180.99 L434.50,180.99 L434.70,180.99 L434.90,180.57 L435.10,180.16 L435.30,179.76 L435.50,179.35 L435.70,178.96 L435.90,178.58 L436.10,178.20 L436.30,177.84 L436.50,177.50 L436.70,177.17 L436.90,176.86 L437.10,176.57 L437.30,176.30 L437.50,176.05 L437.70,175.82 L437.90,175.62 L438.10,175.44 L438.30,175.29 L438.50,175.16 L438.70,175.07 L438.90,175.00 L439.10,174.95 L439.30,174.94 L439.50,174.95 L439.70,175.00 L439.90,175.07 L440.10,175.16 L440.30,175.29 L440.50,175.44 L440.70,175.62 L440.90,175.82 L441.10,176.05 L441.30,176.30 L441.50,176.57 L441.70,176.86 L441.90,177.17 L442.10,177.50 L442.30,177.84 L442.50,178.20 L442.70,178.58 L442.90,178.96 L443.10,179.35 L443.30,179.76 L443.50,180.16 L443.70,180.57 L443.90,180.99 L444.10,180.99 L444.30,180.99 L444.50,180.99 L444.70,180.99 L444.90,180.99 L445.10,180.99 L445.30,180.99 L445.50,180.99 L445.70,180.99 L445.90,180.99 L446.10,180.99 L446.30,180.99 L446.50,180.99 L446.70,180.99 L446.90,180.99 L447.10,180.99 L447.30,180.99 L447.50,180.99 L447.70,180.99 L447.90,180.99 L448.10,180.99 L448.30,180.99 L448.50,180.99 L448.70,180.99 L448.90,180.77 L449.10,180.34 L449.30,179.92 L449.50,179.50 L449.70,179.08 L449.90,178.67 L450.10,178.27 L450.30,177.88 L450.50,177.50 L450.70,177.13 L450.90,176.78 L451.10,176.44 L451.30,176.12 L451.50,175.82 L451.70,175.53 L451.90,175.27 L452.10,175.03 L452.30,174.80 L452.50,174.60 L452.70,174.43 L452.90,174.28 L453.10,174.15 L453.30,174.05 L453.50,173.97 L453.70,173.92 L453.90,173.89 L454.10,173.89 L454.30,173.92 L454.50,173.97 L454.70,174.05 L454.90,174.15 L455.10,174.28 L455.30,174.43 L455.50,174.60 L455.70,174.80 L455.90,175.03 L456.10,175.27 L456.30,175.53 L456.50,175.82 L456.70,176.12 L456.90,176.44 L457.10,176.78 L457.30,177.13 L457.50,177.50 L457.70,177.88 L457.90,178.27 L458.10,178.67 L458.30,179.08 L458.50,179.50 L458.70,179.92 L458.90,180.34 L459.10,180.77 L459.30,180.99 L459.50,180.99 L459.70,180.99 L459.90,180.99 L460.10,180.99 L460.30,180.99 L460.50,180.99 L460.70,180.99 L460.90,180.99 L461.10,180.99 L461.30,180.99 L461.50,180.99 L461.70,180.99 L461.90,180.99 L462.10,180.99 L462.30,180.99 L462.50,180.99 L462.70,180.99 L462.90,180.99 L463.10,180.99 L463.30,180.77 L463.50,180.34 L463.70,179.92 L463.90,179.50 L464.10,179.08 L464.30,178.67 L464.50,178.27 L464.70,177.88 L464.90,177.50 L465.10,177.13 L465.30,176.78 L465.50,176.44 L465.70,176.12 L465.90,175.82 L466.10,175.53 L466.30,175.27 L466.50,175.03 L466.70,174.80 L466.90,174.60 L467.10,174.43 L467.30,174.28 L467.50,174.15 L467.70,174.05 L467.90,173.97 L468.10,173.92 L468.30,173.89 L468.50,173.89 L468.70,173.92 L468.90,173.97 L469.10,174.05 L469.30,174.15 L469.50,174.28 L469.70,174.43 L469.90,174.60 L470.10,174.80 L470.30,175.03 L470.50,175.27 L470.70,175.53 L470.90,175.82 L471.10,176.12 L471.30,176.44 L471.50,176.78 L471.70,177.13 L471.90,177.50 L472.10,177.88 L472.30,178.27 L472.50,178.67 L472.70,179.08 L472.90,179.50 L473.10,179.92 L473.30,180.34 L473.50,180.77 L473.70,180.99 L473.90,180.99 L474.10,180.99 L474.30,180.99 L474.50,180.99 L474.70,180.99 L474.90,180.99 L475.10,180.99 L475.30,180.99 L475.50,180.99 L475.70,180.99 L475.90,180.99 L476.10,180.99 L476.30,180.99 L476.50,180.99 L476.70,180.99 L476.90,180.99 L477.10,180.99 L477.30,180.99 L477.50,180.99 L477.70,180.99 L477.90,180.76 L478.10,180.32 L478.30,179.88 L478.50,179.44 L478.70,179.01 L478.90,178.58 L479.10,178.17 L479.30,177.76 L479.50,177.37 L479.70,176.99 L479.90,176.62 L480.10,176.27 L480.30,175.94 L480.50,175.63 L480.70,175.33 L480.90,175.06 L481.10,174.81 L481.30,174.58 L481.50,174.37 L481.70,174.19 L481.90,174.03 L482.10,173.90 L482.30,173.79 L482.50,173.71 L482.70,173.66 L482.90,173.63 L483.10,173.63 L483.30,173.66 L483.50,173.71 L483.70,173.79 L483.90,173.90 L484.10,174.03 L484.30,174.19 L484.50,174.37 L484.70,174.58 L484.90,174.81 L485.10,175.06 L485.30,175.33 L485.50,175.63 L485.70,175.94 L485.90,176.27 L486.10,176.62 L486.30,176.99 L486.50,177.37 L486.70,177.76 L486.90,178.17 L487.10,178.58 L487.30,179.01 L487.50,179.44 L487.70,179.88 L487.90,180.32 L488.10,180.76 L488.30,180.99 L488.50,180.99 L488.70,180.99 L488.90,180.99 L489.10,180.99 L489.30,180.99 L489.50,180.99 L489.70,180.99 L489.90,180.99 L490.10,180.99 L490.30,180.99 L490.50,180.99 L490.70,180.99 L490.90,180.99 L491.10,180.99 L491.30,180.99 L491.50,180.99 L491.70,180.99 L491.90,180.99 L492.10,180.99 L492.30,180.99 L492.50,180.99 L492.70,180.99 L492.90,180.79 L493.10,180.39 L493.30,180.00 L493.50,179.61 L493.70,179.22 L493.90,178.84 L494.10,178.47 L494.30,178.11 L494.50,177.76 L494.70,177.42 L494.90,177.09 L495.10,176.78 L495.30,176.48 L495.50,176.20 L495.70,175.94 L495.90,175.69 L496.10,175.47 L496.30,175.26 L496.50,175.08 L496.70,174.91 L496.90,174.77 L497.10,174.66 L497.30,174.56 L497.50,174.49 L497.70,174.44 L497.90,174.42 L498.10,174.42 L498.30,174.44 L498.50,174.49 L498.70,174.56 L498.90,174.66 L499.10,174.77 L499.30,174.91 L499.50,175.08 L499.70,175.26 L499.90,175.47 L500.10,175.69 L500.30,175.94 L500.50,176.20 L500.70,176.48 L500.90,176.78 L501.10,177.09 L501.30,177.42 L501.50,177.76 L501.70,178.11 L501.90,178.47 L502.10,178.84 L502.30,179.22 L502.50,179.61 L502.70,180.00 L502.90,180.39 L503.10,180.79 L503.30,180.99 L503.50,180.99 L503.70,180.99 L503.90,180.99 L504.10,180.99 L504.30,180.99 L504.50,180.99 L504.70,180.99 L504.90,180.99 L505.10,180.99 L505.30,180.99 L505.50,180.99 L505.70,180.99 L505.90,180.99 L506.10,180.99 L506.30,180.99 L506.50,180.99 L506.70,180.99 L506.90,180.99 L507.10,180.99 L507.30,180.99 L507.50,180.99 L507.70,180.99 L507.90,180.84 L508.10,180.56 L508.30,180.27 L508.50,179.99 L508.70,179.72 L508.90,179.44 L509.10,179.18 L509.30,178.91 L509.50,178.66 L509.70,178.42 L509.90,178.18 L510.10,177.96 L510.30,177.74 L510.50,177.54 L510.70,177.35 L510.90,177.17 L511.10,177.01 L511.30,176.86 L511.50,176.73 L511.70,176.61 L511.90,176.51 L512.10,176.43 L512.30,176.36 L512.50,176.31 L512.70,176.27 L512.90,176.26 L513.10,176.26 L513.30,176.27 L513.50,176.31 L513.70,176.36 L513.90,176.43 L514.10,176.51 L514.30,176.61 L514.50,176.73 L514.70,176.86 L514.90,177.01 L515.10,177.17 L515.30,177.35 L515.50,177.54 L515.70,177.74 L515.90,177.96 L516.10,178.18 L516.30,178.42 L516.50,178.66 L516.70,178.91 L516.90,179.18 L517.10,179.44 L517.30,179.72 L517.50,179.99 L517.70,180.27 L517.90,180.56 L518.10,180.84 L518.30,180.99 L518.50,180.99 L518.70,180.99 L518.90,180.99 L519.10,180.99 L519.30,180.99 L519.50,180.99 L519.70,180.99 L519.90,180.99 L520.10,180.99 L520.30,180.99 L520.50,180.99 L520.70,180.99 L520.90,180.99 L521.10,180.99 L521.30,180.99 L521.50,180.99 L521.70,180.99 L521.90,180.99 L522.10,180.99 L522.30,180.99 L522.50,180.99 L522.70,180.99 L522.90,180.84 L523.10,180.56 L523.30,180.27 L523.50,179.99 L523.70,179.72 L523.90,179.44 L524.10,179.18 L524.30,178.91 L524.50,178.66 L524.70,178.42 L524.90,178.18 L525.10,177.96 L525.30,177.74 L525.50,177.54 L525.70,177.35 L525.90,177.17 L526.10,177.01 L526.30,176.86 L526.50,176.73 L526.70,176.61 L526.90,176.51 L527.10,176.43 L527.30,176.36 L527.50,176.31 L527.70,176.27 L527.90,176.26 L528.10,176.26 L528.30,176.27 L528.50,176.31 L528.70,176.36 L528.90,176.43 L529.10,176.51 L529.30,176.61 L529.50,176.73 L529.70,176.86 L529.90,177.01 L530.10,177.17 L530.30,177.35 L530.50,177.54 L530.70,177.74 L530.90,177.96 L531.10,178.18 L531.30,178.42 L531.50,178.66 L531.70,178.91 L531.90,179.18 L532.10,179.44 L532.30,179.72 L532.50,179.99 L532.70,180.27 L532.90,180.56 L533.10,180.84 L533.30,180.99 L533.50,180.99 L533.70,180.99 L533.90,180.99 L534.10,180.99 L534.30,180.99 L534.50,180.99 L534.70,180.99 L534.90,180.99 L535.10,180.99 L535.30,180.99 L535.50,180.99 L535.70,180.99 L535.90,180.99 L536.10,180.99 L536.30,180.99 L536.50,180.99 L536.70,180.99 L536.90,180.99 L537.10,180.99 L537.30,180.99 L537.50,180.99 L537.70,180.99 L537.90,180.99 L538.10,180.99 L538.30,180.99 L538.50,180.99 L538.70,180.99 L538.90,180.99 L539.10,180.99 L539.30,180.99 L539.50,180.67 L539.70,180.35 L539.90,180.04 L540.10,179.73 L540.30,179.42 L540.50,179.12 L540.70,178.83 L540.90,178.54 L541.10,178.27 L541.30,178.00 L541.50,177.74 L541.70,177.50 L541.90,177.27 L542.10,177.05 L542.30,176.85 L542.50,176.66 L542.70,176.49 L542.90,176.33 L543.10,176.19 L543.30,176.07 L543.50,175.97 L543.70,175.88 L543.90,175.81 L544.10,175.77 L544.30,175.74 L544.50,175.73" fill="none" stroke="#8c6c40" stroke-width="1.0" stroke-linejoin="round"/>
<rect x="493.4" y="12.4" width="45.4" height="19.9" fill="#fff" stroke="#4a4a4a" stroke-width="0.7"/>
<line x1="496" y1="18.4" x2="517" y2="18.4" stroke="#4a34cc" stroke-width="0.75"/>
<line x1="496" y1="27.3" x2="517" y2="27.3" stroke="#8c6c40" stroke-width="0.75"/>
<text class="lg" x="518.9" y="20.7">SMA1</text>
<text class="lg" x="518.9" y="29.6">SMA2</text>
<text class="lb" x="427.5" y="213.8" text-anchor="middle">Time[s]</text>
<text class="lb" transform="translate(293.2,99.6) rotate(-90)" text-anchor="middle">Input power[W]</text>
</g>
<g transform="translate(31.3,234.5) scale(1.1226,1)"><text class="cap" x="0" y="0">(<tspan class="b">a</tspan>) Displacement of the flexible arm.</text></g>
<g transform="translate(321.4,234.5) scale(1.1469,1)"><text class="cap" x="0" y="0">(<tspan class="b">b</tspan>) Input power of SMA actuator.</text></g>
</svg>
</body></html>
